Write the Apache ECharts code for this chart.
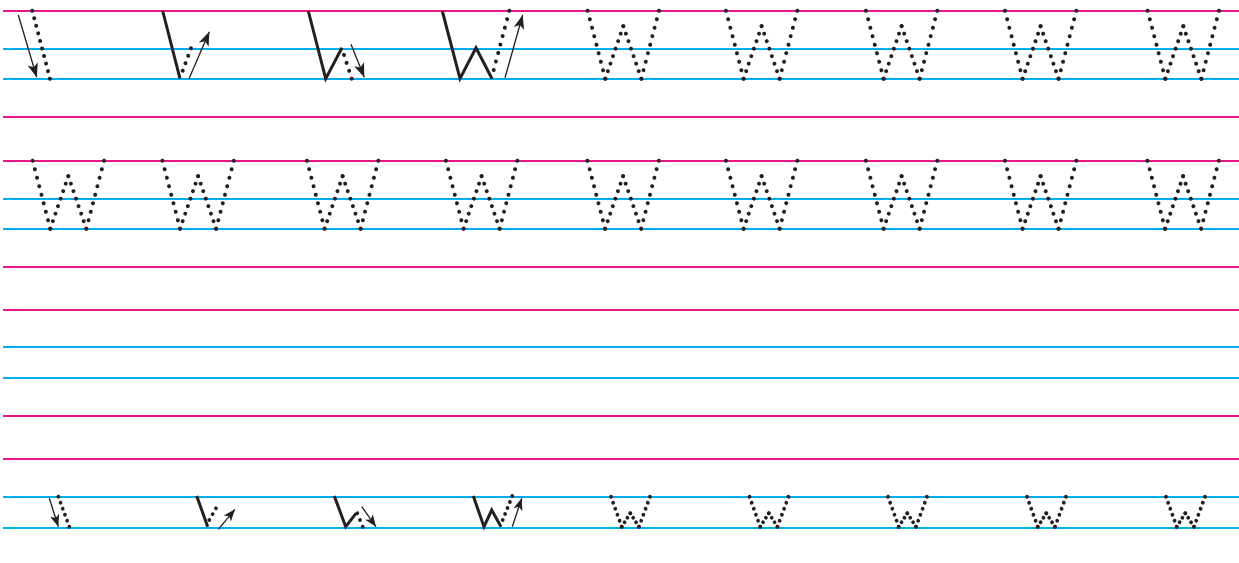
<!DOCTYPE html>
<html>
<head>
<meta charset="utf-8">
<title>W</title>
<script src="https://cdn.jsdelivr.net/npm/echarts@6/dist/echarts.min.js"></script>
<style>
  html, body { margin: 0; padding: 0; background: #fff; }
  #main { width: 1239px; height: 563px; }
</style>
</head>
<body>
<div id="main"></div>
<script>
// ruling of the sheet (y in px from the top)
const pinkRules = [10.7, 116.3, 160.7, 266.3, 309.3, 415.3, 459];
const blueRules = [48.3, 78.7, 198.3, 228.7, 347, 377.7, 497, 527.3];

// dotted W, offsets from its top-left corner
const tallWx = [0, 17.6, 35.6, 53.6, 71.3];
const tallWy = [0, 68, 15.5, 68, 0];
const smallWx = [0, 10.7, 19.3, 28, 39];
const smallWy = [0, 30, 16.6, 30, 0];

// where the dotted Ws sit
const row1X = [587.7, 726, 866, 1005, 1147.7];
const row1Top = 10.7;
const row2X = [32.7, 162.5, 307, 446, 587.5, 726, 866, 1005, 1147.5];
const row2Top = 160.7;
const row4X = [611, 749.5, 888, 1027, 1166];
const row4Top = 496.7;

// stroke order letters, big (row 1)
const tallSolid = [
  [[162.7, 11], [180, 78.7]],
  [[308.3, 11], [325.7, 78.7], [342, 47.7]],
  [[442.3, 11], [460, 78.7], [476, 47.7], [492, 78.7]]
];
const tallTrace = [
  [[32.3, 10.7], [50, 78.7]],
  [[191, 48.3], [182.7, 70.7]],
  [[344, 55], [351.7, 78.7]],
  [[509.3, 10.7], [493.7, 70]]
];
const tallArrows = [
  [[18.3, 15], [36.7, 77.3]],
  [[189, 78.7], [209.3, 31.7]],
  [[351, 44.3], [364.3, 77.3]],
  [[505, 77.7], [522.7, 15]]
];

// stroke order letters, small (row 4)
const smallSolid = [
  [[196.7, 496], [207.7, 526.7]],
  [[334.3, 496], [345.7, 526.7], [356, 513.3]],
  [[473.3, 496], [484, 526.7], [491.7, 510], [501, 526.7]]
];
const smallTrace = [
  [[58.3, 496.7], [69.3, 526.7]],
  [[216, 508.3], [209.3, 520]],
  [[357.3, 513.3], [362.7, 526.7]],
  [[512.3, 496], [502.7, 520]]
];
const smallArrows = [
  [[49.3, 498.3], [58.3, 526.7]],
  [[218.3, 529.3], [235, 509.3]],
  [[361.7, 506.7], [376, 526.7]],
  [[512.3, 526.7], [521.7, 498.3]]
];

const PINK = '#e8168a';
const BLUE = '#00aeef';
const INK = '#231f20';

// one dotted stroke, with a dot on both ends
function dotSeg(a, b, step, size) {
  const l = Math.hypot(b[0] - a[0], b[1] - a[1]);
  const n = Math.max(1, Math.round(l / step));
  return {
    coords: [a, b],
    lineStyle: { type: [0.001, l / n - 0.002], width: size, cap: 'round' }
  };
}

// four dotted strokes of a W, drawn from the top points down
function wDots(x0, y0, xs, ys, step, size) {
  const p = xs.map((x, i) => [x0 + x, y0 + ys[i]]);
  return [
    dotSeg(p[0], p[1], step, size),
    dotSeg(p[2], p[1], step, size),
    dotSeg(p[2], p[3], step, size),
    dotSeg(p[4], p[3], step, size)
  ];
}

let dots = [];
row1X.forEach(x => { dots = dots.concat(wDots(x, row1Top, tallWx, tallWy, 8.5, 4)); });
row2X.forEach(x => { dots = dots.concat(wDots(x, row2Top, tallWx, tallWy, 8.5, 4)); });
row4X.forEach(x => { dots = dots.concat(wDots(x, row4Top, smallWx, smallWy, 6.3, 3.8)); });
tallTrace.forEach(s => dots.push(dotSeg(s[0], s[1], 8.2, 4)));
smallTrace.forEach(s => dots.push(dotSeg(s[0], s[1], 6.3, 3.8)));

const rule = y => ({ coords: [[3, y], [1239, y]] });

const chart = echarts.init(document.getElementById('main'));

chart.setOption({
  animation: false,
  backgroundColor: '#fff',
  grid: { left: 0, right: 0, top: 0, bottom: 0 },
  xAxis: { type: 'value', min: 0, max: 1239, show: false },
  yAxis: { type: 'value', min: 0, max: 563, inverse: true, show: false },
  series: [
    {
      type: 'lines', coordinateSystem: 'cartesian2d', silent: true,
      lineStyle: { color: PINK, width: 2, opacity: 1, curveness: 0 },
      data: pinkRules.map(rule)
    },
    {
      type: 'lines', coordinateSystem: 'cartesian2d', silent: true,
      lineStyle: { color: BLUE, width: 2, opacity: 1, curveness: 0 },
      data: blueRules.map(rule)
    },
    {
      type: 'lines', coordinateSystem: 'cartesian2d', silent: true, polyline: true,
      lineStyle: { color: INK, width: 3, opacity: 1, join: 'miter' },
      data: tallSolid.concat(smallSolid).map(c => ({ coords: c }))
    },
    {
      type: 'lines', coordinateSystem: 'cartesian2d', silent: true,
      lineStyle: { color: INK, opacity: 1, curveness: 0 },
      data: dots
    },
    {
      type: 'lines', coordinateSystem: 'cartesian2d', silent: true,
      symbol: ['none', 'arrow'], symbolSize: [0, [8, 14]],
      lineStyle: { color: INK, width: 1.3, opacity: 1, curveness: 0 },
      data: tallArrows.map(c => ({ coords: c }))
    },
    {
      type: 'lines', coordinateSystem: 'cartesian2d', silent: true,
      symbol: ['none', 'arrow'], symbolSize: [0, [7, 12]],
      lineStyle: { color: INK, width: 1.3, opacity: 1, curveness: 0 },
      data: smallArrows.map(c => ({ coords: c }))
    }
  ]
});
</script>
</body>
</html>
